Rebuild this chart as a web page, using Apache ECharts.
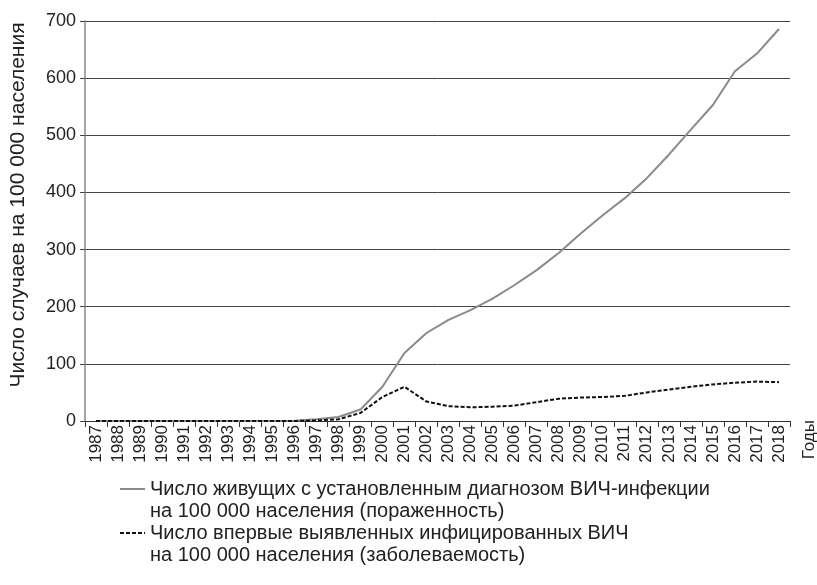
<!DOCTYPE html>
<html>
<head>
<meta charset="utf-8">
<script src="https://cdn.jsdelivr.net/npm/echarts@6/dist/echarts.min.js"></script>
<style>
  html, body { margin: 0; padding: 0; background: #fff; }
  #chart { width: 817px; height: 585px; }
</style>
</head>
<body>
<div id="chart"></div>
<script>
// годы по оси X
const years = [];
for (let y = 1987; y <= 2018; y++) years.push(String(y));

// пораженность (сплошная серая)
const prevalence = [0, 0, 0, 0, 0, 0, 0, 0, 0, 0.5, 3, 7, 20, 60, 119, 154, 177, 194, 214, 238, 264, 294, 328, 360, 390, 425, 466, 510, 553, 612, 643, 686];
// заболеваемость (пунктир)
const incidence = [0, 0, 0, 0, 0, 0, 0, 0, 0, 0, 1, 3, 14, 42, 60, 34, 26, 24, 25, 27, 33, 39, 41, 42, 44, 50, 55, 60, 64, 67, 69, 68];

const yTicks = [0, 100, 200, 300, 400, 500, 600, 700];

const nameA = 'Число живущих с установленным диагнозом ВИЧ-инфекции\nна 100 000 населения (пораженность)';
const nameB = 'Число впервые выявленных инфицированных ВИЧ\nна 100 000 населения (заболеваемость)';

const font = 'Liberation Sans, Arial, sans-serif';
const chart = echarts.init(document.getElementById('chart'));

chart.setOption({
  animation: false,
  backgroundColor: '#fff',
  textStyle: { fontFamily: font, color: '#222' },
  grid: { left: 82, right: 27, top: 21, bottom: 164, containLabel: false },
  legend: {
    orient: 'vertical',
    left: 114, top: 451,
    itemWidth: 25, itemHeight: 10, itemGap: -22,
    data: [nameA, nameB],
    itemStyle: { opacity: 0 },
    // пустая строка сверху — чтобы значок стоял у первой строки подписи
    formatter: name => '\n' + name,
    textStyle: { fontSize: 20, color: '#222', lineHeight: 22 },
  },
  xAxis: {
    type: 'category',
    data: years,
    boundaryGap: true,
    axisLine: { lineStyle: { color: '#333', width: 1 } },
    axisTick: { show: true, length: 6, lineStyle: { color: '#333' } },
    axisLabel: { rotate: 90, fontSize: 17, color: '#222', margin: 4, interval: 0 },
  },
  yAxis: {
    type: 'value',
    min: 0, max: 700, interval: 100,
    name: 'Число случаев на 100 000 населения',
    nameLocation: 'middle',
    nameGap: 56,
    nameTextStyle: { fontSize: 21, color: '#222', padding: [0, 0, 0, 32] },
    axisLine: { show: true, lineStyle: { color: '#888', width: 1.5 } },
    axisTick: { show: true, length: 5, lineStyle: { color: '#444' } },
    axisLabel: { fontSize: 18, color: '#222', margin: 9,
      formatter: v => yTicks.includes(v) ? String(v) : '' },
    splitLine: { show: true, lineStyle: { color: '#444', width: 1 } },
  },
  graphic: [{
    type: 'text',
    left: 801, top: 420,
    rotation: Math.PI / 2,
    style: { text: 'Годы', fontSize: 17, fill: '#222', fontFamily: font },
  }],
  series: [
    {
      name: nameA, type: 'line', data: prevalence,
      symbol: 'none', smooth: false,
      lineStyle: { color: '#8a8a8a', width: 2 },
      itemStyle: { color: '#8a8a8a' },
    },
    {
      name: nameB, type: 'line', data: incidence,
      symbol: 'none', smooth: false,
      lineStyle: { color: '#111', width: 2, type: [4, 2] },
      itemStyle: { color: '#111' },
    },
  ],
});
</script>
</body>
</html>
